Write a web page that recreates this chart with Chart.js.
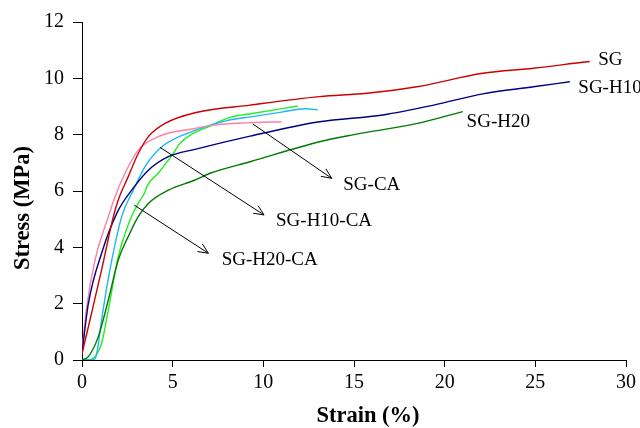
<!DOCTYPE html>
<html>
<head>
<meta charset="utf-8">
<script src="https://cdn.jsdelivr.net/npm/chart.js@4.4.1/dist/chart.umd.min.js"></script>
<style>
  html, body { margin: 0; padding: 0; background: #fff; }
  #wrap { width: 640px; height: 428px; }
</style>
</head>
<body>
<div id="wrap"><canvas id="chart"></canvas></div>
<script>
// stress-strain curves (strain %, stress MPa)
const sgStrain = [0, 0.05, 0.44, 1.08, 1.73, 2.0, 2.55, 3.1, 3.66, 4.58, 6.23, 9.27, 13.1, 15.7, 18.46, 22.1, 24.9, 27.6, 28.0];
const sgStress = [0.2, 0.35, 1.42, 3.2, 5.09, 5.68, 6.51, 7.33, 7.93, 8.4, 8.78, 9.05, 9.35, 9.47, 9.7, 10.18, 10.36, 10.57, 10.6];

const sgH10Strain = [0, 0.35, 1.08, 1.95, 2.74, 3.66, 4.76, 6.23, 9.27, 13.1, 16.6, 19.4, 22.1, 24.9, 26.9];
const sgH10Stress = [0.25, 2.0, 3.79, 5.25, 6.03, 6.74, 7.22, 7.48, 7.95, 8.46, 8.7, 9.05, 9.45, 9.7, 9.88];

const sgH20Strain = [0, 0.35, 0.9, 1.45, 2.0, 2.55, 3.1, 3.66, 4.76, 6.23, 7.06, 9.27, 13.1, 15, 18.5, 21];
const sgH20Stress = [0, 0.12, 0.83, 2.13, 3.55, 4.38, 5.09, 5.56, 6.03, 6.39, 6.63, 7.04, 7.75, 8.0, 8.4, 8.82];

const sgCaStrain = [0, 0.26, 0.72, 1.45, 1.82, 2.37, 3.1, 4.2, 6.23, 7.25, 9, 11];
const sgCaStress = [0.3, 1.89, 3.55, 5.09, 5.8, 6.63, 7.45, 7.93, 8.22, 8.34, 8.42, 8.46];

const sgH10CaStrain = [0, 0.65, 0.75, 0.85, 1.08, 1.54, 2.19, 2.83, 3.47, 4.4, 6.23, 8, 9.4, 11, 12.3, 13];
const sgH10CaStress = [0, 0.02, 0.08, 0.35, 1.42, 3.2, 5.09, 6.03, 6.86, 7.57, 8.15, 8.5, 8.64, 8.8, 8.92, 8.88];

const sgH20CaStrain = [0, 0.3, 0.72, 1.08, 1.45, 2.0, 2.65, 3.1, 3.5, 3.57, 4.2, 5.0, 5.4, 7.2, 8.2, 9.4, 11.9];
const sgH20CaStress = [0, 0, 0.12, 0.59, 1.77, 3.67, 4.97, 5.56, 6.0, 6.15, 6.63, 7.3, 7.69, 8.35, 8.62, 8.75, 9.02];

const xTicks = [0, 5, 10, 15, 20, 25, 30];
const yTicks = [0, 2, 4, 6, 8, 10, 12];

// text labels next to the curve ends, and the three arrow callouts (data units)
const endLabels = ['SG', 'SG-H10', 'SG-H20'];
const endLabelAt = [[28.47, 10.65], [27.37, 9.64], [21.21, 8.46]];
const arrowLabels = ['SG-CA', 'SG-H10-CA', 'SG-H20-CA'];
const arrowFrom = [[9.42, 8.38], [4.30, 7.55], [2.88, 5.50]];
const arrowTo = [[13.77, 6.45], [10.04, 5.15], [6.97, 3.79]];
const arrowLabelAt = [[14.41, 6.22], [10.70, 4.92], [7.70, 3.55]];

const series = [
  { label: 'SG', x: sgStrain, y: sgStress, color: '#cc0000' },
  { label: 'SG-H10', x: sgH10Strain, y: sgH10Stress, color: '#000080' },
  { label: 'SG-H20', x: sgH20Strain, y: sgH20Stress, color: '#007a00' },
  { label: 'SG-CA', x: sgCaStrain, y: sgCaStress, color: '#ff7fa6' },
  { label: 'SG-H10-CA', x: sgH10CaStrain, y: sgH10CaStress, color: '#1ab8f0' },
  { label: 'SG-H20-CA', x: sgH20CaStrain, y: sgH20CaStress, color: '#22ee22' },
];

const SERIF = '"Liberation Serif", "Times New Roman", serif';

const annotate = {
  id: 'annotate',
  afterDatasetsDraw(chart) {
    const { ctx, scales: { x, y } } = chart;
    ctx.save();
    ctx.strokeStyle = '#000';
    ctx.lineWidth = 1;
    arrowFrom.forEach((f, i) => {
      const x0 = x.getPixelForValue(f[0]), y0 = y.getPixelForValue(f[1]);
      const x1 = x.getPixelForValue(arrowTo[i][0]), y1 = y.getPixelForValue(arrowTo[i][1]);
      const a = Math.atan2(y1 - y0, x1 - x0);
      ctx.beginPath();
      ctx.moveTo(x0, y0);
      ctx.lineTo(x1, y1);
      ctx.moveTo(x1 - 11 * Math.cos(a - 0.42), y1 - 11 * Math.sin(a - 0.42));
      ctx.lineTo(x1, y1);
      ctx.lineTo(x1 - 11 * Math.cos(a + 0.42), y1 - 11 * Math.sin(a + 0.42));
      ctx.stroke();
    });

    ctx.fillStyle = '#000';
    ctx.font = '19px ' + SERIF;
    ctx.textAlign = 'left';
    ctx.textBaseline = 'middle';
    endLabels.forEach((t, i) => {
      ctx.fillText(t, x.getPixelForValue(endLabelAt[i][0]), y.getPixelForValue(endLabelAt[i][1]));
    });
    arrowLabels.forEach((t, i) => {
      ctx.fillText(t, x.getPixelForValue(arrowLabelAt[i][0]), y.getPixelForValue(arrowLabelAt[i][1]));
    });

    // axis titles sit a little off-centre in the original
    ctx.font = 'bold 22.5px ' + SERIF;
    ctx.textAlign = 'center';
    ctx.fillText('Strain (%)', 368, 416);
    ctx.translate(23, 208);
    ctx.rotate(-Math.PI / 2);
    ctx.fillText('Stress (MPa)', 0, 0);
    ctx.restore();
  }
};

new Chart(document.getElementById('chart'), {
  type: 'line',
  data: {
    datasets: series.map(s => ({
      label: s.label,
      data: s.x.map((v, i) => ({ x: v, y: s.y[i] })),
      borderColor: s.color,
      borderWidth: 1.4,
      pointRadius: 0,
      fill: false,
      cubicInterpolationMode: 'monotone',
    })),
  },
  options: {
    responsive: true,
    maintainAspectRatio: false,
    animation: false,
    layout: { padding: { top: 22, right: 14, left: 0, bottom: 0 } },
    plugins: { legend: { display: false }, tooltip: { enabled: false } },
    scales: {
      x: {
        type: 'linear',
        min: 0, max: 30,
        afterBuildTicks: s => { s.ticks = xTicks.map(v => ({ value: v })); },
        afterFit: s => { s.height = 68; },
        ticks: { color: '#000', font: { family: SERIF, size: 20 }, padding: 4, maxRotation: 0 },
        grid: { drawOnChartArea: false, drawTicks: true, tickLength: 7, color: '#000' },
        border: { display: true, color: '#000', width: 1 },
      },
      y: {
        type: 'linear',
        min: 0, max: 12,
        afterBuildTicks: s => { s.ticks = yTicks.map(v => ({ value: v })); },
        afterFit: s => { s.width = 82; },
        ticks: { color: '#000', font: { family: SERIF, size: 20 }, padding: 9 },
        grid: { drawOnChartArea: false, drawTicks: true, tickLength: 9, color: '#000' },
        border: { display: true, color: '#000', width: 1 },
      },
    },
  },
  plugins: [annotate],
});
</script>
</body>
</html>
